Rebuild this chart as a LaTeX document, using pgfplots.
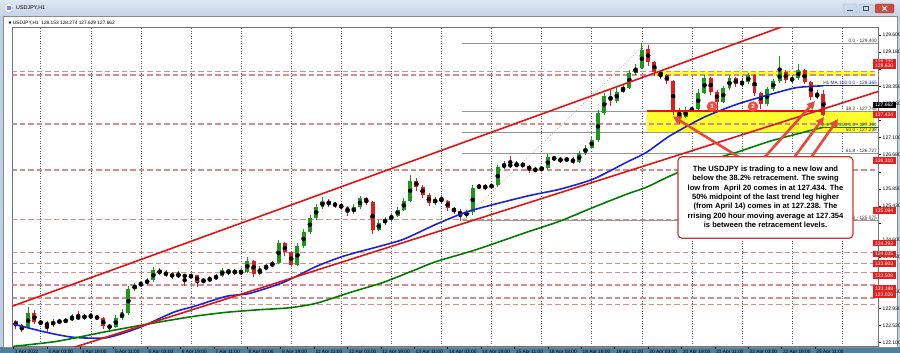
\documentclass[border=0pt]{standalone}
\usepackage{fontspec}
\setmainfont{Liberation Sans}
\newfontfamily\dejavu{DejaVu Sans}
\usepackage{pgfplots}
\pgfplotsset{compat=1.18}
\usepackage{pgfplotstable}
\usetikzlibrary{arrows.meta}

\definecolor{candleG}{RGB}{30,150,30}
\definecolor{candleR}{RGB}{220,30,30}
\definecolor{maBlue}{RGB}{25,35,215}
\definecolor{maGreen}{RGB}{0,125,0}
\definecolor{chanRed}{RGB}{225,20,20}
\definecolor{dashRed}{RGB}{214,140,140}
\definecolor{zoneY}{RGB}{255,255,45}
\definecolor{fibGray}{RGB}{150,150,150}
\definecolor{fibDiag}{RGB}{190,150,150}
\definecolor{arrowRed}{RGB}{230,72,60}
\definecolor{boxRed}{RGB}{200,55,50}
\definecolor{lblRed}{RGB}{226,32,32}
\definecolor{circRed}{RGB}{232,80,68}
\definecolor{frameBlue}{RGB}{190,208,228}
\definecolor{frameDark}{RGB}{80,128,158}
\definecolor{titleTop}{RGB}{222,232,244}
\definecolor{titleBot}{RGB}{196,212,230}
\definecolor{btnBlue}{RGB}{200,218,238}
\definecolor{btnClose}{RGB}{205,75,60}
\definecolor{btnCloseD}{RGB}{160,50,40}

\pgfplotstableread{
x o h l c
1 122.62 122.66 122.44 122.50
4 122.50 122.55 122.35 122.45
7 122.45 122.98 122.43 122.82
10 122.82 122.90 122.55 122.60
13 122.60 122.66 122.52 122.58
16 122.58 122.62 122.35 122.52
19 122.52 122.68 122.48 122.63
22 122.63 122.68 122.55 122.60
25 122.60 122.70 122.57 122.66
28 122.66 122.80 122.62 122.72
31 122.72 122.86 122.64 122.70
34 122.70 122.80 122.66 122.75
37 122.75 122.82 122.68 122.73
40 122.73 122.78 122.64 122.70
43 122.70 122.72 122.44 122.50
46 122.50 122.56 122.42 122.48
49 122.48 122.78 122.45 122.70
52 122.70 122.92 122.66 122.82
55 122.82 123.48 122.78 123.40
58 123.40 123.56 123.36 123.50
61 123.50 123.60 123.46 123.55
64 123.55 123.68 123.50 123.62
67 123.62 123.95 123.58 123.86
70 123.86 123.92 123.74 123.80
73 123.80 123.86 123.70 123.76
76 123.76 123.82 123.66 123.72
79 123.72 123.84 123.68 123.76
82 123.76 123.78 123.47 123.70
85 123.70 123.80 123.64 123.74
88 123.74 123.74 123.46 123.58
91 123.58 123.68 123.55 123.62
94 123.62 123.72 123.58 123.66
97 123.66 123.78 123.62 123.72
100 123.72 123.93 123.70 123.88
103 123.88 123.90 123.74 123.80
106 123.80 123.90 123.76 123.84
109 123.84 123.88 123.74 123.82
112 123.82 124.18 123.80 124.10
115 124.10 124.12 123.69 123.78
118 123.78 123.96 123.76 123.90
121 123.90 124.02 123.88 123.96
124 123.96 124.10 123.94 124.05
127 124.05 124.60 124.02 124.52
130 124.52 124.55 124.22 124.30
133 124.30 124.32 123.96 124.00
136 124.00 124.52 123.98 124.45
139 124.45 124.88 124.42 124.80
142 124.80 125.22 124.76 125.15
145 125.15 125.48 125.10 125.40
148 125.40 125.66 125.36 125.55
151 125.55 125.60 125.40 125.48
154 125.48 125.54 125.38 125.46
157 125.46 125.50 125.34 125.40
160 125.40 125.44 125.20 125.28
163 125.28 125.48 125.24 125.40
166 125.40 125.68 125.36 125.62
169 125.62 125.64 125.46 125.52
172 125.52 125.56 124.74 124.85
175 124.85 125.08 124.82 125.02
178 125.02 125.16 124.98 125.10
181 125.10 125.26 125.06 125.20
184 125.20 125.40 125.16 125.34
187 125.34 125.62 125.30 125.56
190 125.56 126.20 125.52 126.05
193 126.05 126.12 125.80 125.90
196 125.90 125.94 125.64 125.70
199 125.70 125.74 125.44 125.50
202 125.50 125.66 125.46 125.60
205 125.60 125.70 125.50 125.55
208 125.55 125.58 125.32 125.38
211 125.38 125.42 125.24 125.30
214 125.30 125.36 125.075 125.20
217 125.20 125.34 125.14 125.28
220 125.28 125.95 125.22 125.88
223 125.88 125.98 125.84 125.92
226 125.92 125.96 125.82 125.88
229 125.88 126.00 125.84 125.94
232 125.94 126.44 125.90 126.38
235 126.38 126.52 126.34 126.45
238 126.45 126.64 126.36 126.40
241 126.40 126.52 126.38 126.46
244 126.46 126.50 126.36 126.42
247 126.42 126.44 126.25 126.30
250 126.30 126.38 126.26 126.32
253 126.32 126.42 126.28 126.36
256 126.36 126.70 126.32 126.62
259 126.62 126.66 126.52 126.58
262 126.58 126.62 126.48 126.55
265 126.55 126.64 126.50 126.58
268 126.58 126.62 126.45 126.50
271 126.50 126.78 126.48 126.72
274 126.72 126.92 126.68 126.85
277 126.85 127.12 126.82 127.05
280 127.05 127.78 127.00 127.70
283 127.70 128.20 127.66 128.12
286 128.12 128.26 127.86 128.00
289 128.00 128.30 127.95 128.22
292 128.22 128.40 128.18 128.32
295 128.32 128.76 128.28 128.68
298 128.68 128.90 128.62 128.80
301 128.80 129.40 128.78 129.25
304 129.25 129.36 128.86 128.95
307 128.95 128.98 128.60 128.70
310 128.70 128.72 128.52 128.62
313 128.62 128.66 128.40 128.48
316 128.48 128.50 127.66 127.75
319 127.75 127.82 127.434 127.60
322 127.60 127.84 127.58 127.76
325 127.76 127.86 127.72 127.80
328 127.80 128.28 127.76 128.20
331 128.20 128.62 128.16 128.55
334 128.55 128.58 128.14 128.22
337 128.22 128.26 127.78 127.98
340 127.98 128.36 127.94 128.30
343 128.30 128.62 128.26 128.55
346 128.55 128.58 128.34 128.40
349 128.40 128.52 128.36 128.45
352 128.45 128.68 128.40 128.62
355 128.62 128.65 128.12 128.20
358 128.20 128.22 127.80 127.92
361 127.92 128.34 127.88 128.28
364 128.28 128.54 128.24 128.48
367 128.48 129.08 128.44 128.70
370 128.70 128.74 128.44 128.50
373 128.50 128.62 128.42 128.55
376 128.55 128.90 128.50 128.75
379 128.75 128.78 128.40 128.45
382 128.45 128.48 128.02 128.10
385 128.10 128.26 128.04 128.153
388 128.153 128.274 127.629 127.662
}\candles

\pgfplotsset{
  bull/.style={x filter/.expression={\thisrow{c}<\thisrow{o} ? nan : x}},
  bear/.style={x filter/.expression={\thisrow{c}<\thisrow{o} ? x : nan}},
}

\begin{document}
\begin{tikzpicture}[x=1pt,y=1pt]
\useasboundingbox (0,0) rectangle (900,353);
% window chrome
\fill[frameBlue] (0,0) rectangle (900,353);
\shade[top color=titleTop, bottom color=titleBot] (0,337) rectangle (900,353);
\fill[frameDark] (0,0) rectangle (900,6);
\fill[white] (3,6) rectangle (897,337);
\draw[black!45] (3,6) rectangle (897,337);
% title bar
\fill[white, draw=gray!70, rounded corners=1pt] (5,341) rectangle (12,349);
\fill[blue!50] (6.5,343) rectangle (10.5,347);
\node[anchor=west, inner sep=0pt, font=\fontsize{5.4}{6}\selectfont] at (16,345.5) {USDJPY,H1};
\fill[btnBlue, draw=gray!60, rounded corners=1.5pt] (843,340) rectangle (857,349);
\draw[gray!60!black, line width=0.9pt] (847,342.5) -- (853,342.5);
\fill[btnBlue, draw=gray!60, rounded corners=1.5pt] (859,340) rectangle (873,349);
\draw[gray!60!black, line width=0.6pt] (863.5,342.5) rectangle (868.5,346.5);
\fill[btnClose, draw=btnCloseD, rounded corners=1.5pt] (875,340) rectangle (894,349);
\draw[white, line width=1pt] (882,342) -- (887,347) (882,347) -- (887,342);

\begin{axis}[
  at={(6,16)}, anchor=south west,
  scale only axis, width=866pt, height=319pt,
  xmin=-0.48, xmax=414.4, ymin=122.007, ymax=129.788,
  clip mode=individual,
  axis line style={draw=black!55, line width=0.6pt},
  tick align=outside, major tick length=2.5pt,
  tick style={black, line width=0.5pt},
  xtick pos=bottom, xticklabel pos=bottom,
  ytick pos=right, yticklabel pos=right,
  xtick={0,16,...,384},
  xticklabels={1 Apr 2022,4 Apr 03:00,4 Apr 19:00,5 Apr 11:00,6 Apr 03:00,6 Apr 19:00,7 Apr 11:00,8 Apr 03:00,8 Apr 19:00,11 Apr 11:00,12 Apr 03:00,12 Apr 19:00,13 Apr 11:00,14 Apr 03:00,14 Apr 19:00,15 Apr 11:00,18 Apr 03:00,18 Apr 19:00,19 Apr 11:00,20 Apr 03:00,20 Apr 19:00,21 Apr 11:00,22 Apr 03:00,22 Apr 19:00,25 Apr 11:00},
  xticklabel style={anchor=north west, inner sep=0pt, xshift=1.2pt, yshift=-1.2pt, font=\fontsize{4.8}{5}\selectfont},
  ytick={122.1,122.5167,122.9333,123.35,123.7667,124.1833,124.6,125.0167,125.4333,125.85,126.2667,126.6833,127.1,127.5167,127.9333,128.35,128.7667,129.1833,129.6},
  yticklabels={122.100,122.520,122.930,123.350,,124.180,124.600,,125.430,125.850,,126.680,127.100,,127.930,128.350,,129.180,129.600},
  yticklabel style={anchor=west, inner sep=0pt, xshift=1.5pt, font=\fontsize{5}{5}\selectfont},
  minor xtick={13,37,...,397},
  xminorgrids=true, minor tick length=0pt,
  minor grid style={draw=black!65, line width=0.5pt, dash pattern=on 0.8pt off 1.7pt},
]
% yellow zones
\addplot[fill=zoneY, draw=none] coordinates {(303.7,127.215) (412,127.215) (412,127.748) (303.7,127.748)} -- cycle;
\addplot[fill=zoneY, draw=none] coordinates {(307,128.615) (412.5,128.615) (412.5,128.72) (307,128.72)} -- cycle;
% dashed horizontal levels
\foreach \v in {128.705,128.630,127.434,126.310,125.094,124.293,124.035,123.803,123.508,123.188,123.026}{
  \edef\tmp{\noexpand\addplot[dashRed, line width=1.2pt, dash pattern=on 5.5pt off 3pt] coordinates {(-1,\v) (416,\v)};}
  \tmp
}
% fibonacci levels
\addplot[fibGray, line width=0.8pt] coordinates {(215,129.400) (416,129.400)};
\addplot[fibGray, line width=0.8pt] coordinates {(215,127.748) (416,127.748)};
\addplot[fibGray, line width=0.8pt] coordinates {(215,127.238) (416,127.238)};
\addplot[fibGray, line width=0.8pt] coordinates {(215,126.727) (416,126.727)};
\addplot[fibGray, line width=0.8pt] coordinates {(215,125.075) (416,125.075)};
\addplot[fibDiag, line width=0.6pt, dash pattern=on 0.8pt off 1.6pt] coordinates {(215,125.075) (303,129.400)};
% candles: wicks
\addplot[bull, only marks, mark=none, error bars/.cd, y dir=both, y explicit, error mark=none, error bar style={draw=candleG, line width=0.8pt}]
  table[x=x, y expr={(\thisrow{h}+\thisrow{l})/2}, y error expr={(\thisrow{h}-\thisrow{l})/2}] {\candles};
\addplot[bear, only marks, mark=none, error bars/.cd, y dir=both, y explicit, error mark=none, error bar style={draw=candleR, line width=0.8pt}]
  table[x=x, y expr={(\thisrow{h}+\thisrow{l})/2}, y error expr={(\thisrow{h}-\thisrow{l})/2}] {\candles};
% candles: bodies
\addplot[bull, only marks, mark=none, error bars/.cd, y dir=both, y explicit, error mark=none, error bar style={draw=candleG, line width=3.9pt}]
  table[x=x, y expr={(\thisrow{o}+\thisrow{c})/2}, y error expr={abs(\thisrow{c}-\thisrow{o})/2}] {\candles};
\addplot[bear, only marks, mark=none, error bars/.cd, y dir=both, y explicit, error mark=none, error bar style={draw=candleR, line width=3.9pt}]
  table[x=x, y expr={(\thisrow{o}+\thisrow{c})/2}, y error expr={abs(\thisrow{c}-\thisrow{o})/2}] {\candles};
% moving averages
\addplot[maBlue, line width=1.6pt, smooth, tension=0.4] coordinates {
(0,122.55) (15.8,122.35) (28.7,122.23) (44.6,122.22) (60.4,122.47) (76.6,122.84) (86.2,122.98) (102,123.23) (113,123.30) (129.3,123.57) (145.1,123.96) (158.1,124.21) (173.9,124.43) (186.8,124.62) (202.6,124.99) (218.4,125.31) (245.7,125.67) (261.6,125.84) (277.8,126.09) (293.7,126.50) (303.2,126.74) (314.3,127.14) (330.5,127.59) (346.3,127.91) (362.2,128.15) (375.1,128.32) (388,128.365)};
\addplot[maBlue, line width=1.1pt] coordinates {(388,128.365) (416,128.365)};
\addplot[maGreen, line width=1.6pt, smooth, tension=0.4] coordinates {
(0,122.01) (20.6,122.13) (44.6,122.37) (68.5,122.59) (86.2,122.74) (102,122.84) (117,122.90) (132.2,122.95) (145.1,123.06) (161,123.32) (177.2,123.57) (193.1,123.89) (202.6,124.08) (221.8,124.37) (245.7,124.79) (261.6,125.06) (277.8,125.40) (293.7,125.72) (303.2,125.89) (314.3,126.16) (330.5,126.50) (346.3,126.74) (362.2,127.01) (378.4,127.23) (388,127.354)};
\addplot[maGreen, line width=1.1pt] coordinates {(388,127.354) (416,127.354)};
% channel lines
\addplot[chanRed, line width=1.6pt] coordinates {(-0.5,122.99) (414.5,130.66)};
\addplot[chanRed, line width=1.6pt] coordinates {(28.7,121.98) (414.5,128.23)};
% 38.2 support line
\addplot[chanRed, line width=2.2pt] coordinates {(303.7,127.748) (387.5,127.748)};
% level labels
\node[anchor=south east, inner sep=0.6pt, font=\fontsize{4.8}{5}\selectfont, text=black!80] at (axis cs:414,129.400) {0.0 - 129.400};
\node[anchor=south east, inner sep=0.6pt, font=\fontsize{4.8}{5}\selectfont, text=black!80] at (axis cs:414,127.748) {38.2 - 127.748};
\node[anchor=south east, inner sep=0.6pt, font=\fontsize{4.8}{5}\selectfont, text=black!80] at (axis cs:414,127.238) {50.0 - 127.238};
\node[anchor=south east, inner sep=0.6pt, font=\fontsize{4.8}{5}\selectfont, text=black!80] at (axis cs:414,126.727) {61.8 - 126.727};
\node[anchor=south east, inner sep=0.6pt, font=\fontsize{4.8}{5}\selectfont, text=black!80] at (axis cs:414,125.075) {100.0 - 125.075};
\node[anchor=south east, inner sep=0.6pt, font=\fontsize{4.8}{5}\selectfont, text=maBlue] at (axis cs:414,128.365) {H1 MA:100 0.0 - 128.365};
\node[anchor=south east, inner sep=0.6pt, font=\fontsize{4.8}{5}\selectfont, text=maGreen] at (axis cs:414,127.354) {H1 MA:200 0.0 - 127.354};
\end{axis}

% header text
\node[anchor=west, inner sep=0pt, font=\fontsize{4.8}{5}\selectfont] at (8.5,330) {{\dejavu\fontsize{3.8}{4}\selectfont ▼}\ USDJPY,H1\ \ 128.153 128.274 127.629 127.662};

% circles 1 and 2
\foreach \cx/\n in {712/1,753/2}{
  \fill[circRed] (\cx,246.5) circle (5.3);
  \node[text=white, font=\fontsize{6.2}{6}\selectfont\bfseries, inner sep=0pt] at (\cx,246.5) {\n};
}
% arrows
\begin{scope}[arrowRed, line width=2.6pt, -{Triangle[length=8pt,width=8pt]}]
\draw (742,194) -- (673,236.5);
\draw (763,194) -- (815,252);
\draw (793,194) -- (824,236);
\draw (810,194) -- (838,234);
\end{scope}
% annotation box
\draw[boxRed, line width=1.2pt, fill=white, rounded corners=4pt] (678,114.7) rectangle (853,196.3);
\node[align=center, inner sep=0pt, font=\fontsize{7.6}{9.3}\selectfont\bfseries] at (765.5,156.3) {The USDJPY is trading to a new low and\\below the 38.2\% retracement. The swing\\low from\ \ April 20 comes in at 127.434. The\\50\% midpoint of the last trend leg higher\\(from April 14) comes in at 127.238. The\\rrising 200 hour moving average at 127.354\\is between the retracement levels.};

% price boxes on the right axis
\foreach \yy/\t in {290.9/128.705,287.3/128.630,238.5/127.434,192.4/126.310,142.6/125.094,109.7/124.293,99.1/124.035,89.6/123.803,77.5/123.508,64.4/123.188,57.8/123.026}{
  \node[fill=lblRed, text=white, anchor=west, inner sep=0pt, minimum width=23pt, minimum height=6.4pt, font=\fontsize{5}{5}\selectfont] at (872.5,\yy) {\t};
}
\node[fill=black, text=white, anchor=west, inner sep=0pt, minimum width=23pt, minimum height=6.4pt, font=\fontsize{5}{5}\selectfont] at (872.5,247.8) {127.662};
\end{tikzpicture}
\end{document}
